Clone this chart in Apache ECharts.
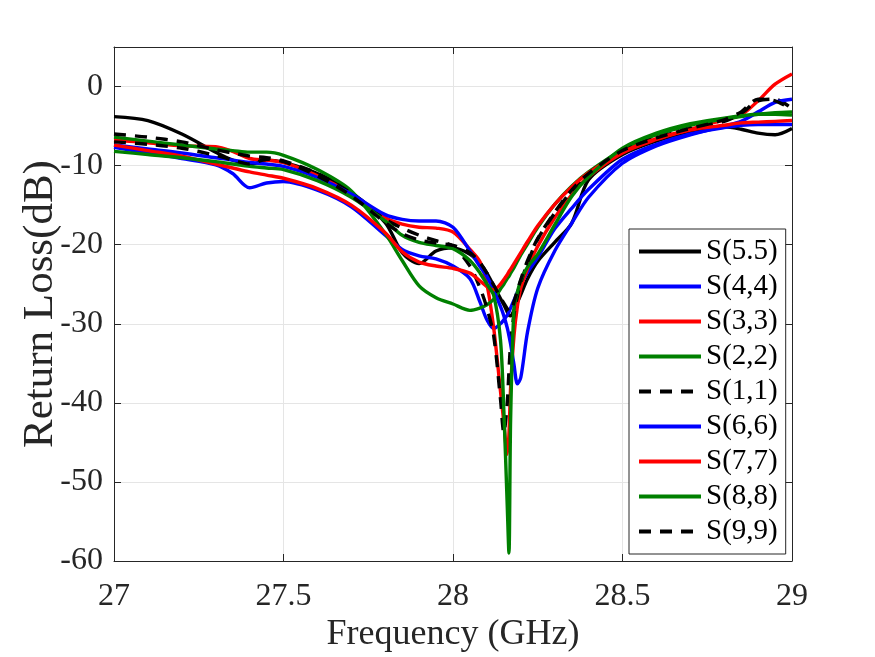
<!DOCTYPE html>
<html>
<head>
<meta charset="utf-8">
<script src="https://cdn.jsdelivr.net/npm/echarts@6/dist/echarts.min.js"></script>
<style>
html,body{margin:0;padding:0;background:#fff;}
#chart{width:875px;height:657px;}
</style>
</head>
<body>
<div id="chart"></div>
<script>
// Frequency grid (GHz)
var freq = [27.00, 27.10, 27.20, 27.30, 27.35, 27.40, 27.45, 27.50, 27.60, 27.70,
            27.80, 27.85, 27.90, 27.95, 28.00, 28.05, 28.08, 28.10, 28.12, 28.14,
            28.15, 28.16, 28.165, 28.17, 28.18, 28.19, 28.20, 28.22, 28.25, 28.30,
            28.35, 28.40, 28.50, 28.60, 28.70, 28.80, 28.85, 28.90, 28.95, 29.00];

var s55 = [-3.8, -4.3, -6.0, -8.3, -9.3, -9.9, -9.3, -9.6, -11.0, -13.4,
           -17.2, -21.0, -22.4, -20.8, -20.4, -21.2, -22.4, -23.6, -25.2, -26.8,
           -27.6, -28.5, -28.9, -29.0, -28.3, -27.3, -26.3, -24.3, -22.1, -19.7,
           -17.3, -11.8, -8.6, -6.9, -5.7, -5.1, -5.4, -5.9, -6.1, -5.3];
var s44 = [-7.7, -8.4, -9.1, -9.9, -11.0, -12.8, -12.2, -12.0, -13.1, -15.2,
           -18.8, -20.6, -21.4, -21.8, -22.7, -24.3, -27.3, -29.5, -30.6, -30.0,
           -29.5, -28.9, -28.5, -28.0, -27.0, -26.0, -25.0, -23.5, -21.6, -18.0,
           -15.4, -13.0, -9.2, -7.3, -6.0, -5.2, -4.9, -4.8, -4.8, -4.8];
var s33 = [-6.8, -7.1, -7.5, -7.6, -8.2, -9.1, -9.3, -9.6, -11.3, -13.6,
           -16.6, -17.4, -17.8, -17.9, -18.4, -20.6, -22.2, -25.0, -30.5, -38.5,
           -42.5, -46.5, -44.0, -38.0, -31.5, -27.8, -25.5, -23.0, -20.2, -16.6,
           -13.7, -11.4, -8.4, -6.7, -5.4, -4.2, -3.6, -1.8, 0.3, 1.6];
var s22 = [-6.4, -6.9, -7.4, -7.9, -8.1, -8.3, -8.3, -8.7, -10.5, -13.2,
           -18.6, -22.0, -25.2, -26.7, -27.5, -28.3, -28.0, -27.6, -26.9, -25.6,
           -25.0, -24.3, -24.0, -23.6, -22.9, -22.1, -21.3, -19.9, -17.8, -14.9,
           -12.6, -10.8, -8.0, -6.1, -4.9, -4.1, -3.8, -3.5, -3.3, -3.2];
var s11 = [-6.0, -6.4, -7.0, -8.0, -8.4, -8.8, -9.0, -9.4, -11.0, -13.5,
           -16.8, -17.9, -18.8, -19.5, -20.2, -22.7, -25.5, -28.0, -31.5, -39.5,
           -43.8, -40.0, -36.0, -32.5, -28.8, -26.5, -24.8, -22.3, -19.3, -16.0,
           -13.2, -11.0, -8.1, -6.5, -5.3, -4.4, -3.4, -1.8, -1.6, -2.8];
var s66 = [-7.4, -7.9, -8.4, -9.0, -9.3, -9.6, -9.8, -10.1, -11.5, -13.6,
           -16.2, -16.8, -17.0, -17.0, -17.8, -20.8, -22.8, -24.0, -25.8, -27.8,
           -29.0, -30.5, -31.5, -32.6, -35.2, -37.6, -36.8, -31.0, -25.5, -20.8,
           -17.3, -14.0, -9.7, -7.5, -6.1, -5.0, -4.4, -3.2, -2.0, -1.6];
var s77 = [-7.4, -8.1, -8.8, -9.8, -10.3, -10.8, -11.2, -11.6, -12.9, -15.0,
           -18.5, -20.9, -22.2, -22.7, -23.0, -23.6, -24.6, -25.3, -25.7, -25.0,
           -24.4, -23.8, -23.4, -23.1, -22.4, -21.7, -21.0, -19.6, -17.6, -14.9,
           -12.7, -10.9, -8.3, -6.6, -5.5, -4.9, -4.6, -4.5, -4.4, -4.3];
var s88 = [-8.2, -8.6, -9.0, -9.5, -9.8, -10.1, -10.3, -10.5, -11.9, -14.0,
           -17.0, -18.8, -19.7, -20.1, -20.5, -22.0, -23.6, -25.0, -26.4, -32.0,
           -41.0, -53.0, -59.0, -42.0, -28.0, -26.0, -24.5, -22.8, -21.2, -17.5,
           -13.9, -11.4, -7.8, -5.9, -4.7, -4.0, -3.7, -3.5, -3.5, -3.6];
var s99 = [-7.0, -7.3, -7.8, -8.7, -9.3, -9.8, -9.2, -9.5, -11.3, -13.8,
           -17.2, -18.6, -19.4, -19.8, -20.1, -21.0, -22.3, -23.6, -25.1, -26.7,
           -27.4, -28.1, -28.4, -28.4, -27.2, -25.8, -24.4, -22.0, -19.2, -15.9,
           -13.1, -11.0, -8.1, -6.5, -5.3, -4.2, -3.2, -1.6, -1.8, -2.9];

var seriesNames = ['S(5.5)', 'S(4,4)', 'S(3,3)', 'S(2,2)', 'S(1,1)', 'S(6,6)', 'S(7,7)', 'S(8,8)', 'S(9,9)'];
var seriesValues = [s55, s44, s33, s22, s11, s66, s77, s88, s99];
var seriesColors = ['#000000', '#0000ff', '#ff0000', '#008000', '#000000', '#0000ff', '#ff0000', '#008000', '#000000'];
var seriesDashed = [false, false, false, false, true, false, false, false, true];

var xTicks = [27, 27.5, 28, 28.5, 29];
var yTicks = [-60, -50, -40, -30, -20, -10, 0];

var FONT = 'Liberation Serif';
var chart = echarts.init(document.getElementById('chart'), null, {renderer: 'canvas'});

var series = seriesNames.map(function (name, k) {
  return {
    name: name,
    type: 'line',
    xAxisIndex: 0,
    yAxisIndex: 0,
    symbol: 'none',
    smooth: 0.3,
    animation: false,
    lineStyle: {
      color: seriesColors[k],
      width: 3.4,
      type: seriesDashed[k] ? [12, 9] : 'solid'
    },
    itemStyle: {color: seriesColors[k]},
    data: freq.map(function (f, i) { return [f, seriesValues[k][i]]; })
  };
});

var axisCol = '#262626';
var option = {
  backgroundColor: '#ffffff',
  animation: false,
  grid: {left: 114, right: 83, top: 47, bottom: 96, containLabel: false, outerBoundsMode: 'none'},
  legend: {
    orient: 'vertical',
    left: 629,
    top: 229,
    padding: [8, 8, 8, 8],
    itemWidth: 62,
    itemHeight: 14,
    itemGap: 6,
    backgroundColor: '#ffffff',
    borderColor: axisCol,
    borderWidth: 1,
    itemStyle: {opacity: 0},
    lineStyle: {width: 4},
    textStyle: {fontFamily: FONT, fontSize: 29, color: '#000', lineHeight: 27},
    data: seriesNames
  },
  xAxis: [{
    type: 'value', min: xTicks[0], max: xTicks[xTicks.length - 1], interval: 0.5,
    position: 'bottom',
    name: 'Frequency (GHz)', nameLocation: 'middle', nameGap: 56, nameMoveOverlap: false,
    nameTextStyle: {fontFamily: FONT, fontSize: 36, color: axisCol},
    axisLine: {show: true, onZero: false, lineStyle: {color: axisCol, width: 1}},
    axisTick: {show: true, inside: true, length: 7, lineStyle: {color: axisCol}},
    axisLabel: {fontFamily: FONT, fontSize: 32, color: axisCol, margin: 20,
      formatter: function (v) { return String(v); }},
    splitLine: {show: true, lineStyle: {color: '#e5e5e5', width: 1}}
  }, {
    type: 'value', min: xTicks[0], max: xTicks[xTicks.length - 1], interval: 0.5,
    position: 'top',
    axisLine: {show: true, onZero: false, lineStyle: {color: axisCol, width: 1}},
    axisTick: {show: true, inside: true, length: 7, lineStyle: {color: axisCol}},
    axisLabel: {show: false},
    splitLine: {show: false}
  }],
  yAxis: [{
    type: 'value', min: -60, max: 5, interval: 10,
    position: 'left',
    name: 'Return Loss(dB)', nameLocation: 'middle', nameGap: 52, nameMoveOverlap: false,
    nameTextStyle: {fontFamily: FONT, fontSize: 43, color: axisCol},
    axisLine: {show: true, onZero: false, lineStyle: {color: axisCol, width: 1}},
    axisTick: {show: true, inside: true, length: 7, lineStyle: {color: axisCol},
      customValues: yTicks},
    axisLabel: {fontFamily: FONT, fontSize: 32, color: axisCol, margin: 11,
      customValues: yTicks,
      formatter: function (v) { return v > 0 ? '' : String(v); }},
    splitLine: {show: true, lineStyle: {color: '#e5e5e5', width: 1}}
  }, {
    type: 'value', min: -60, max: 5, interval: 10,
    position: 'right',
    axisLine: {show: true, onZero: false, lineStyle: {color: axisCol, width: 1}},
    axisTick: {show: true, inside: true, length: 7, lineStyle: {color: axisCol},
      customValues: yTicks},
    axisLabel: {show: false},
    splitLine: {show: false}
  }],
  series: series
};
chart.setOption(option);
</script>
</body>
</html>
